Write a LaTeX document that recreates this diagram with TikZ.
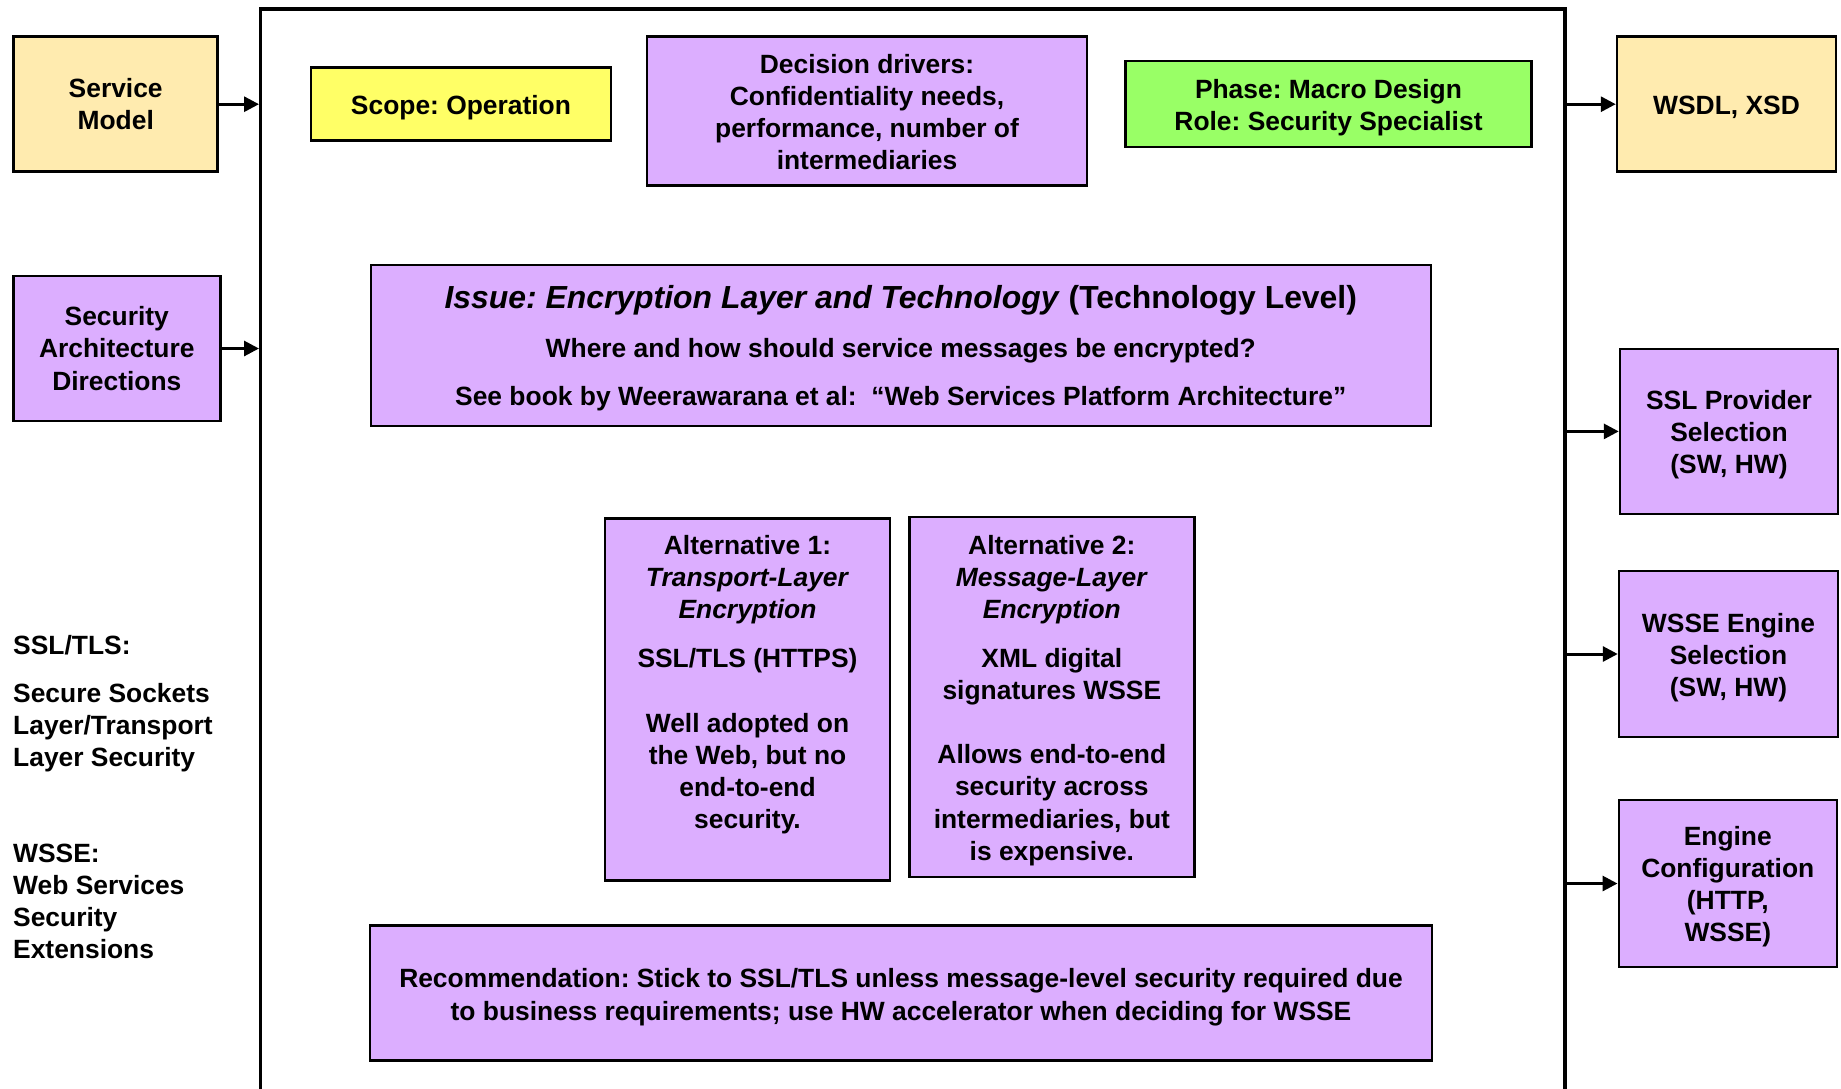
\documentclass[tikz,border=0pt]{standalone}
\usepackage{fontspec}
\setmainfont{Liberation Sans}
\usetikzlibrary{arrows.meta}
\definecolor{boxTan}{HTML}{FFEBAF}
\definecolor{boxYellow}{HTML}{FFFF66}
\definecolor{boxGreen}{HTML}{99FF66}
\definecolor{boxPurple}{HTML}{DCAEFF}
\newcommand\tp[1][26pt]{\rule{0pt}{#1}}
\begin{document}
\begin{tikzpicture}[x=1pt,y=-1pt,
  basefont/.style={font=\frenchspacing\bfseries\fontsize{26.4}{32.1}\selectfont},
  box/.style={basefont, draw=black, line width=2.5pt, inner sep=0pt, align=center},
  txt/.style={basefont, inner sep=0pt},
  arr/.style={line width=3pt, -{Triangle[length=15pt,width=15pt]}},
  frame/.style={line width=3.5pt, line join=miter}]
\useasboundingbox[fill=white] (0,0) rectangle (1841,1088);

% outer frame (open at the bottom)
\draw[frame] (260.5,1100) -- (260.5,9) -- (1565,9) -- (1565,1100);
\coordinate (frameL) at (259,0);
\coordinate (frameR) at (1567,0);

% left inputs
\node[box, fill=boxTan, minimum width=204pt, minimum height=135pt] (sm) at (115.7,104.2) {Service\\Model};
\node[box, fill=boxPurple, minimum width=207pt, minimum height=145pt] (sa) at (116.8,348.5) {Security\\Architecture\\Directions};

% top row
\node[box, fill=boxYellow, minimum width=300pt, minimum height=73pt] (scope) at (461,104) {\tp Scope: Operation};
\node[box, fill=boxPurple, minimum width=440pt, minimum height=149pt] (dec) at (867,110.9) {\tp[22pt]Decision drivers:\\Confidentiality needs,\\performance, number of\\intermediaries};
\node[box, fill=boxGreen, minimum width=406pt, minimum height=86pt] (phase) at (1328.5,104) {\tp Phase: Macro Design\\Role: Security Specialist};

% issue
\node[box, fill=boxPurple, minimum width=1060pt, minimum height=161pt] (issue) at (900.75,345.5)
  {\rule{0pt}{28.5pt}{\fontsize{31.9}{38}\selectfont\textit{Issue: Encryption Layer and Technology} (Technology Level)}\\[16pt]
   Where and how should service messages be encrypted?\\[16pt]
   See book by Weerawarana et al:\ \ “Web Services Platform Architecture”};

% alternatives
\node[box, fill=boxPurple, minimum width=285pt, minimum height=362pt] (alt1) at (747.5,699.3) {};
\node[txt, align=center] (alt1t) at (747.5,681.2)
  {\tp Alternative 1:\\\textit{Transport-Layer}\\\textit{Encryption}\\[17pt]
   SSL/TLS (HTTPS)\\[32pt]
   Well adopted on\\the Web, but no\\end-to-end\\security.};
\node[box, fill=boxPurple, minimum width=285pt, minimum height=360pt] (alt2) at (1051.85,697)
  {\tp Alternative 2:\\\textit{Message-Layer}\\\textit{Encryption}\\[17pt]
   XML digital\\signatures WSSE\\[32pt]
   Allows end-to-end\\security across\\intermediaries, but\\is expensive.};

% recommendation
\node[box, fill=boxPurple, minimum width=1062pt, minimum height=135pt] (rec) at (901,992.75)
  {\rule{0pt}{28pt}Recommendation: Stick to SSL/TLS unless message-level security required due\\
   to business requirements; use HW accelerator when deciding for WSSE};

% right outputs
\node[box, fill=boxTan, minimum width=219pt, minimum height=135pt] (wsdl) at (1726.5,104.2) {\tp[24pt]WSDL, XSD};
\node[box, fill=boxPurple, minimum width=218pt, minimum height=165pt] (ssl) at (1729,431.4) {\tp SSL Provider\\Selection\\(SW, HW)};
\node[box, fill=boxPurple, minimum width=219pt, minimum height=166pt] (wsse) at (1728.5,654) {\tp WSSE Engine\\Selection\\(SW, HW)};
\node[box, fill=boxPurple, minimum width=218pt, minimum height=167pt] (eng) at (1727.75,883.5) {\tp Engine\\Configuration\\(HTTP,\\WSSE)};

% left notes
\node[txt, align=left, anchor=west] (sslnote) at (13,700.5)
  {\tp SSL/TLS:\\[15.8pt]Secure Sockets\\Layer/Transport\\Layer Security};
\node[txt, align=left, anchor=west] (wssenote) at (13,897.8)
  {\tp WSSE:\\Web Services\\Security\\Extensions};

% connectors
\draw[arr] (sm.east) -- (sm.east -| frameL);
\draw[arr] (sa.east) -- (sa.east -| frameL);
\draw[arr] (frameR |- wsdl.west) -- (wsdl.west);
\draw[arr] (frameR |- ssl.west) -- (ssl.west);
\draw[arr] (frameR |- wsse.west) -- (wsse.west);
\draw[arr] (frameR |- eng.west) -- (eng.west);
\end{tikzpicture}
\end{document}
